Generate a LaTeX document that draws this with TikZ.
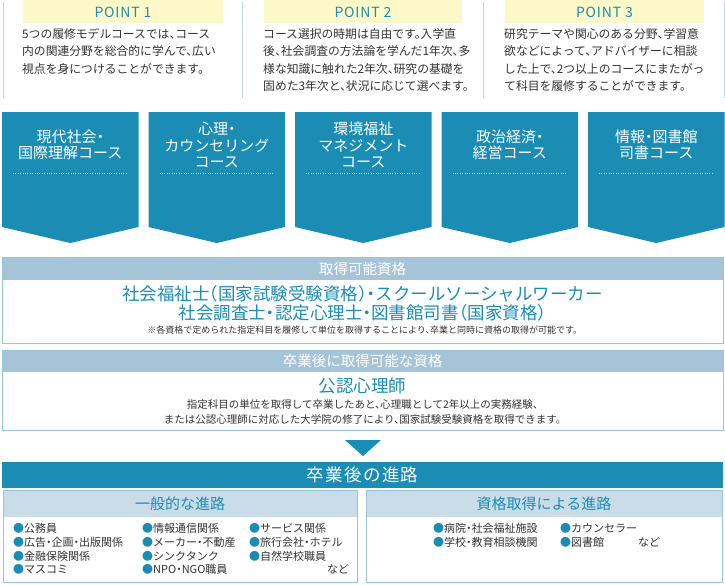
\documentclass[tikz,border=0pt]{standalone}
\usepackage{fontspec}
\setmainfont{Noto Sans CJK JP}[RawFeature=+halt]
\usetikzlibrary{positioning}
\definecolor{courseteal}{RGB}{27,141,181}
\definecolor{headblue}{RGB}{166,196,216}
\definecolor{frameblue}{RGB}{150,200,220}
\definecolor{pointyellow}{RGB}{253,248,200}
\definecolor{sepblue}{RGB}{185,218,230}
\definecolor{textgray}{RGB}{50,50,50}
\definecolor{subhead}{RGB}{202,220,232}
\begin{document}
\begin{tikzpicture}[x=1pt,y=-1pt,
    every node/.style={inner sep=0pt},
    pointhead/.style={text=courseteal,font=\fontsize{14}{14}\selectfont\addfontfeature{LetterSpace=6}},
    pointtext/.style={anchor=north west,align=left,text=textgray,font=\fontsize{11.8}{17.5}\selectfont},
    coursetext/.style={align=center,text=white,font=\fontsize{15}{16.5}\selectfont},
    bandtext/.style={text=white,font=\fontsize{14.5}{14.5}\selectfont},
    qualtext/.style={text=courseteal,font=\fontsize{17.5}{17.5}\selectfont},
    notetext/.style={text=textgray,font=\fontsize{10.5}{15}\selectfont,align=center},
    itemtext/.style={anchor=west,text=textgray,font=\fontsize{11}{11}\selectfont}]
    \useasboundingbox (0,0) rectangle (725,584);
    % points
    \foreach \x in {3,242,483,724} \draw[sepblue] (\x,2) -- (\x,98);
    \fill[pointyellow] (23,0) rectangle (223,23);
    \fill[pointyellow] (264,0) rectangle (462,23);
    \fill[pointyellow] (505,0) rectangle (704,23);
    \node[pointhead] (point1) at (123,12) {POINT 1};
    \node[pointhead] (point2) at (363,12) {POINT 2};
    \node[pointhead] (point3) at (604.5,12) {POINT 3};
    \node[pointtext] (text1) at (22,28) {5つの履修モデルコースでは、コース\\内の関連分野を総合的に学んで、広い\\視点を身につけることができます。};
    \node[pointtext] (text2) at (263,28) {コース選択の時期は自由です。入学直\\後、社会調査の方法論を学んだ1年次、多\\様な知識に触れた2年次、研究の基礎を\\固めた3年次と、状況に応じて選べます。};
    \node[pointtext] (text3) at (504,28) {研究テーマや関心のある分野、学習意\\欲などによって、アドバイザーに相談\\した上で、2つ以上のコースにまたがっ\\て科目を履修することができます。};
    % courses
    \foreach \t [count=\i] in {{現代社会・\\国際理解コース},{心理・\\カウンセリング\\コース},{環境福祉\\マネジメント\\コース},{政治経済・\\経営コース},{情報・図書館\\司書コース}} {
        \pgfmathsetmacro\xl{2+146.5*(\i-1)}
        \pgfmathsetmacro\xr{\xl+136.5}
        \pgfmathsetmacro\xm{\xl+68.25}
        \fill[courseteal] (\xl,112) -- (\xr,112) -- (\xr,227) -- (\xm,243) -- (\xl,227) -- cycle;
        \draw[white,dotted,opacity=.7] (\xl+11,173) -- (\xr-11,173);
        \node[coursetext] (course\i) at (\xm,145) {\t};
    }
    % qualifications
    \fill[headblue] (2,257) rectangle (723,280);
    \draw[frameblue] (2,257) rectangle (723,343);
    \node[bandtext] (qualhead) at (362.5,268.5) {取得可能資格};
    \node[qualtext] (qualA) at (362.5,294) {社会福祉士（国家試験受験資格）・スクールソーシャルワーカー};
    \node[qualtext] (qualB) at (362.5,313) {社会調査士・認定心理士・図書館司書（国家資格）};
    \node[notetext,font=\fontsize{9}{9}\selectfont] (qualnote) at (362.5,330) {※各資格で定められた指定科目を履修して単位を取得することにより、卒業と同時に資格の取得が可能です。};
    \fill[headblue] (2,350) rectangle (723,372);
    \draw[frameblue] (2,350) rectangle (723,430);
    \node[bandtext] (licensehead) at (362.5,361) {卒業後に取得可能な資格};
    \node[qualtext,font=\fontsize{17.5}{17.5}\selectfont] (licensename) at (362.5,386) {公認心理師};
    \node[notetext] (licensenote) at (362.5,412) {指定科目の単位を取得して卒業したあと、心理職として2年以上の実務経験、\\または公認心理師に対応した大学院の修了により、国家試験受験資格を取得できます。};
    \fill[courseteal] (345,440) -- (381,440) -- (363,456) -- cycle;
    % careers
    \fill[courseteal] (2,462) rectangle (723,488);
    \node[bandtext,font=\fontsize{17.5}{17.5}\selectfont\addfontfeature{LetterSpace=8}] (careerhead) at (362.5,475) {卒業後の進路};
    \fill[subhead] (3,490) rectangle (357,517);
    \fill[subhead] (366,490) rectangle (722,517);
    \draw[frameblue] (3,490) rectangle (357,582);
    \draw[frameblue] (366,490) rectangle (722,582);
    \node[qualtext,font=\fontsize{15}{15}\selectfont] (generalhead) at (180,503.5) {一般的な進路};
    \node[qualtext,font=\fontsize{15}{15}\selectfont] (licensedhead) at (544,503.5) {資格取得による進路};
    \foreach \x/\y/\t in {13/528/公務員,13/542/広告・企画・出版関係,13/556/金融保険関係,13/569/マスコミ,
        142/528/情報通信関係,142/542/メーカー・不動産,142/556/シンクタンク,142/569/NPO・NGO職員,
        249/528/サービス関係,249/542/旅行会社・ホテル,249/556/自然学校職員,
        433/528/病院・社会福祉施設,433/542/学校・教育相談機関,560/528/カウンセラー,560/542/図書館}
        \node[itemtext] (item-\x-\y) at (\x,\y) {\textcolor{courseteal}{●}\t};
    \node[itemtext] (etcA) at (327,569) {など};
    \node[itemtext] (etcB) at (638,542) {など};
\end{tikzpicture}
\end{document}
